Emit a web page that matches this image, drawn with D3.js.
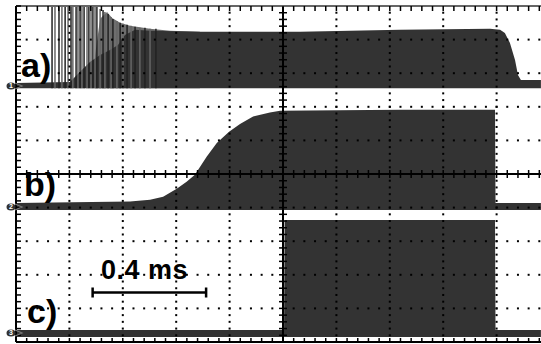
<!DOCTYPE html>
<html>
<head>
<meta charset="utf-8">
<script src="https://cdn.jsdelivr.net/npm/d3@7"></script>
<style>
  body { margin: 0; background: #fff; }
  text { font-family: "Liberation Sans", Arial, sans-serif; font-weight: bold; }
</style>
</head>
<body>
<div id="scope"></div>
<script>
// time in ms (0.2 ms/div), amplitude in divisions above each channel ground
var grounds = [2.62, -0.98, -4.73];
var labels = ["a)", "b)", "c)"];

var aTime = [0, 0.202, 0.240, 0.277, 0.315, 0.352, 0.382, 0.408, 0.446, 0.502, 0.689, 1.064, 1.438, 1.775, 1.813, 1.831, 1.850, 1.869, 1.880, 1.891, 1.966];
var aTop  = [0.09, 0.12, 0.42, 0.71, 0.92, 1.07, 1.22, 1.52, 1.67, 1.64, 1.61, 1.61, 1.67, 1.70, 1.67, 1.58, 1.28, 0.77, 0.33, 0.18, 0.18];
var aGreyTime = [0.296, 0.315, 0.341, 0.360, 0.390, 0.427, 0.502, 0.577, 0.689];
var aGreyTop  = [0.90, 2.00, 2.20, 2.02, 1.88, 1.79, 1.70, 1.64, 1.61];
var aBottom = -0.07;

// burst spikes at turn-on of trace a
var spikeTime = [0.135, 0.146, 0.161, 0.172, 0.184, 0.195, 0.206, 0.213, 0.225, 0.232, 0.240, 0.247, 0.255, 0.266, 0.273, 0.281, 0.288, 0.296, 0.303,
                 0.315, 0.326, 0.333, 0.345, 0.356, 0.363, 0.378, 0.390, 0.401, 0.416, 0.431, 0.446, 0.464, 0.483, 0.502, 0.524];
var spikeTop  = [2.5, 2.5, 2.5, 2.5, 2.5, 2.5, 2.5, 2.5, 2.5, 2.5, 2.5, 2.5, 2.5, 2.5, 2.5, 2.5, 2.5, 2.5, 2.5,
                 2.29, 2.26, 2.20, 2.14, 2.05, 1.99, 1.93, 1.88, 1.85, 1.82, 1.79, 1.76, 1.73, 1.73, 1.70, 1.70];

var bTime = [0, 0.427, 0.502, 0.551, 0.602, 0.639, 0.670, 0.714, 0.752, 0.798, 0.839, 0.888, 0.951, 0.989, 1.438, 1.794, 1.796, 1.966];
var bTop  = [0.12, 0.16, 0.21, 0.30, 0.54, 0.75, 0.96, 1.49, 1.90, 2.24, 2.47, 2.69, 2.81, 2.86, 2.89, 2.89, 0.12, 0.12];
var bBottom = -0.09;

var cTime = [0, 1.004, 1.006, 1.794, 1.796, 1.966];
var cTop  = [0.09, 0.09, 3.36, 3.36, 0.09, 0.09];
var cBottom = -0.12;

var scaleBar = [0.287, 0.712]; // ms
var scaleLabel = "0.4 ms";

var width = 541, height = 344;

var svg = d3.select("#scope")
  .append("svg")
  .attr("width", width)
  .attr("height", height);

var x = d3.scaleLinear().domain([0, 2.0]).range([16, 550]);
var y = d3.scaleLinear().domain([-5, 5]).range([342, 6]);

svg.append("clipPath").attr("id", "screen")
  .append("rect")
  .attr("x", x(0)).attr("y", y(5))
  .attr("width", x(2) - x(0)).attr("height", y(-5) - y(5));

var traces = svg.append("g").attr("clip-path", "url(#screen)");

function drawTrace(times, tops, bottom, ground, color) {
  var area = d3.area()
    .x(function (d) { return x(d[0]); })
    .y0(function () { return y(ground + bottom); })
    .y1(function (d) { return y(ground + d[1]); });
  traces.append("path")
    .datum(d3.zip(times, tops))
    .attr("fill", color)
    .attr("d", area);
}

// trace a
drawTrace(aGreyTime, aGreyTop, aBottom, grounds[0], "#6e6e6e");
drawTrace(aTime, aTop, aBottom, grounds[0], "#333");
traces.selectAll(".spike")
  .data(d3.zip(spikeTime, spikeTop))
  .enter().append("line")
  .attr("class", "spike")
  .attr("x1", function (d) { return x(d[0]); })
  .attr("x2", function (d) { return x(d[0]); })
  .attr("y1", y(grounds[0] + aBottom))
  .attr("y2", function (d) { return y(grounds[0] + d[1]); })
  .attr("stroke", function (d, i) { return i % 2 ? "#666" : "#222"; })
  .attr("stroke-width", 1.5);

// traces b, c
drawTrace(bTime, bTop, bBottom, grounds[1], "#333");
drawTrace(cTime, cTop, cBottom, grounds[2], "#333");

// dotted graticule
var grid = svg.append("g");
var divX = d3.range(1, 10).map(function (i) { return i * 0.2; }).filter(function (d, i) { return i !== 4; });
var divY = d3.range(-4, 5).filter(function (d) { return d !== 0; });
var fineX = d3.range(0, 2.0001, 0.04);
var fineY = d3.range(-5, 5.0001, 0.2);

divX.forEach(function (t) {
  grid.selectAll(null).data(fineY).enter().append("rect")
    .attr("x", x(t) - 1).attr("y", function (d) { return y(d) - 1; })
    .attr("width", 2).attr("height", 2).attr("fill", "#000");
});
divY.forEach(function (v) {
  grid.selectAll(null).data(fineX).enter().append("rect")
    .attr("x", function (d) { return x(d) - 1; }).attr("y", y(v) - 1)
    .attr("width", 2).attr("height", 2).attr("fill", "#000");
});

// centre axes with fine ticks
var axes = svg.append("g").attr("stroke", "#000");
axes.append("line").attr("x1", x(1)).attr("x2", x(1)).attr("y1", y(5)).attr("y2", y(-5)).attr("stroke-width", 2);
axes.append("line").attr("x1", x(0)).attr("x2", x(2)).attr("y1", y(0)).attr("y2", y(0)).attr("stroke-width", 2);
axes.selectAll(null).data(fineY).enter().append("line")
  .attr("x1", x(1) - 4).attr("x2", x(1) + 4)
  .attr("y1", function (d) { return y(d); }).attr("y2", function (d) { return y(d); })
  .attr("stroke-width", 1.5);
axes.selectAll(null).data(fineX).enter().append("line")
  .attr("y1", y(0) - 4).attr("y2", y(0) + 4)
  .attr("x1", function (d) { return x(d); }).attr("x2", function (d) { return x(d); })
  .attr("stroke-width", 1.5);

// border with ticks
var border = svg.append("g").attr("stroke", "#000");
border.append("line").attr("x1", x(0)).attr("x2", x(0)).attr("y1", y(5)).attr("y2", y(-5)).attr("stroke-width", 2);
border.append("line").attr("x1", x(0)).attr("x2", x(2)).attr("y1", y(5)).attr("y2", y(5)).attr("stroke-width", 2).attr("stroke", "#666");
border.append("line").attr("x1", x(0)).attr("x2", x(2)).attr("y1", y(-5)).attr("y2", y(-5)).attr("stroke-width", 2);
border.selectAll(null).data(fineY).enter().append("line")
  .attr("x1", x(0)).attr("x2", x(0) + 5)
  .attr("y1", function (d) { return y(d); }).attr("y2", function (d) { return y(d); })
  .attr("stroke-width", 1.5);
border.selectAll(null).data(fineX).enter().append("line")
  .attr("y1", y(5)).attr("y2", y(5) + 5)
  .attr("x1", function (d) { return x(d); }).attr("x2", function (d) { return x(d); })
  .attr("stroke-width", 1.5);
border.selectAll(null).data(fineX).enter().append("line")
  .attr("y1", y(-5)).attr("y2", y(-5) - 4)
  .attr("x1", function (d) { return x(d); }).attr("x2", function (d) { return x(d); })
  .attr("stroke-width", 1.5);

// channel ground markers
var markers = svg.selectAll(".marker").data(grounds).enter().append("g")
  .attr("class", "marker")
  .attr("transform", function (d) { return "translate(0," + y(d) + ")"; });
markers.append("ellipse").attr("cx", 11).attr("cy", 0).attr("rx", 4.5).attr("ry", 3.5).attr("fill", "#333");
markers.append("text").attr("x", 11).attr("y", 2.5).attr("text-anchor", "middle")
  .attr("font-size", 7).attr("fill", "#fff").text(function (d, i) { return i + 1; });
markers.append("path").attr("d", "M15,-3L22,0L15,3").attr("fill", "none").attr("stroke", "#777").attr("stroke-width", 1.2);

// labels
var labelPos = [[21, 77], [24, 196], [27, 323]];
svg.selectAll(".lbl").data(labels).enter().append("text")
  .attr("class", "lbl")
  .attr("x", function (d, i) { return labelPos[i][0]; })
  .attr("y", function (d, i) { return labelPos[i][1]; })
  .attr("font-size", 34)
  .attr("fill", "#000")
  .text(function (d) { return d; });

// scale bar
var sb = svg.append("g").attr("stroke", "#000").attr("stroke-width", 2.5);
var sbY = 292.5;
sb.append("line").attr("x1", x(scaleBar[0])).attr("x2", x(scaleBar[1])).attr("y1", sbY).attr("y2", sbY);
sb.append("line").attr("x1", x(scaleBar[0])).attr("x2", x(scaleBar[0])).attr("y1", sbY - 5).attr("y2", sbY + 5);
sb.append("line").attr("x1", x(scaleBar[1])).attr("x2", x(scaleBar[1])).attr("y1", sbY - 5).attr("y2", sbY + 5);
svg.append("text")
  .attr("x", 101).attr("y", 279)
  .attr("font-size", 27)
  .attr("letter-spacing", 0.5)
  .attr("fill", "#000")
  .text(scaleLabel);
</script>
</body>
</html>
